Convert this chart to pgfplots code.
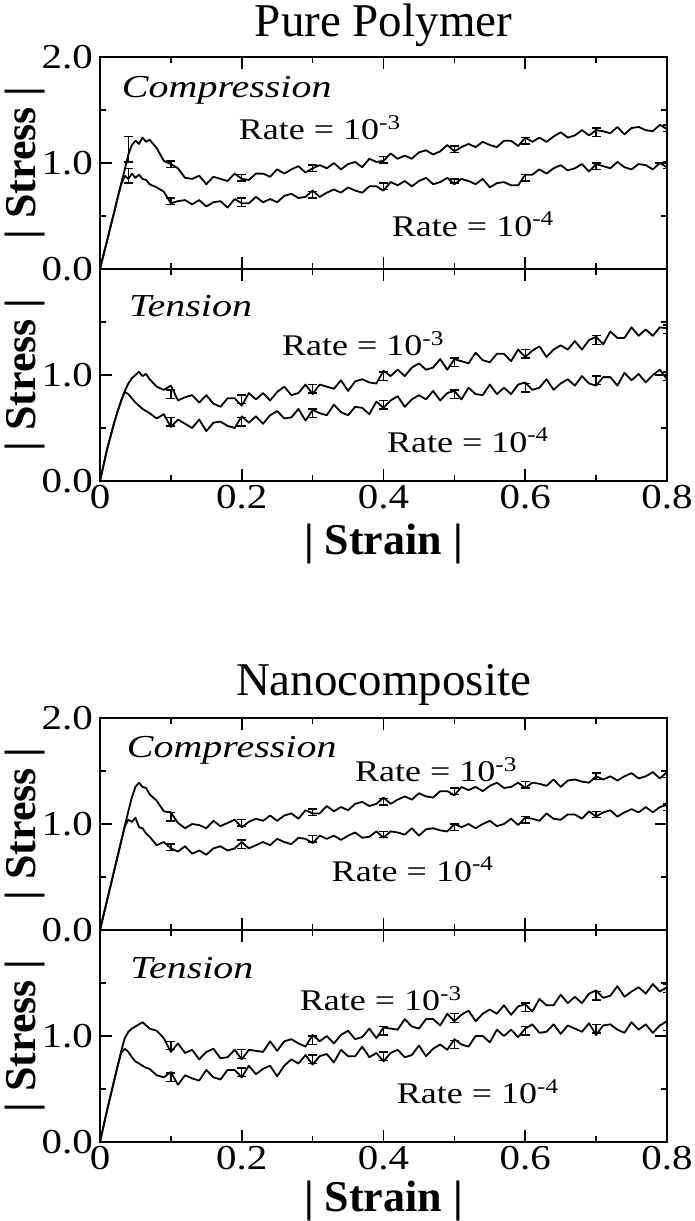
\documentclass[border=0pt]{standalone}
\usepackage{fontspec}
\setmainfont{Liberation Serif}
\newfontfamily\stretchA[FakeStretch=1.17]{Liberation Serif}
\newfontfamily\stretchB[FakeStretch=1.2]{Liberation Serif}
\newfontfamily\stretchC[FakeStretch=1.25]{Liberation Serif}
\usepackage{pgfplots}
\usepackage{pgfplotstable}
\pgfplotsset{compat=1.18}

\pgfplotstableread{
x a b
0 0 0
0.005 0.13 0.14
0.01 0.27 0.26
0.015 0.40 0.41
0.02 0.54 0.53
0.025 0.67 0.68
0.03 0.81 0.80
0.035 0.94 0.88
0.04 1.08 0.85
0.045 1.17 0.90
0.05 1.21 0.86
0.055 1.18 0.89
0.06 1.24 0.85
0.065 1.20 0.84
0.07 1.22 0.80
0.08 1.14 0.77
0.09 1.02 0.73
0.10 0.99 0.62
0.11 0.95 0.64
0.12 0.86 0.65
0.13 0.85 0.61
0.14 0.88 0.65
0.15 0.80 0.59
0.16 0.87 0.63
0.17 0.85 0.64
0.18 0.83 0.58
0.19 0.90 0.66
0.20 0.85 0.62
0.21 0.84 0.62
0.22 0.90 0.68
0.23 0.90 0.63
0.24 0.87 0.66
0.25 0.94 0.63
0.26 0.90 0.69
0.27 0.94 0.71
0.28 0.97 0.67
0.29 0.91 0.68
0.30 0.95 0.74
0.31 0.98 0.68
0.32 0.95 0.72
0.33 1.00 0.75
0.34 0.94 0.72
0.35 0.99 0.77
0.36 1.01 0.74
0.37 0.96 0.72
0.38 1.04 0.78
0.39 1.01 0.78
0.40 1.02 0.74
0.41 1.09 0.82
0.42 1.04 0.79
0.43 1.07 0.83
0.44 1.04 0.78
0.45 1.10 0.83
0.46 1.12 0.86
0.47 1.08 0.80
0.48 1.11 0.82
0.49 1.17 0.86
0.50 1.11 0.80
0.51 1.15 0.85
0.52 1.18 0.83
0.53 1.15 0.80
0.54 1.20 0.85
0.55 1.17 0.77
0.56 1.15 0.81
0.57 1.21 0.82
0.58 1.21 0.79
0.59 1.16 0.79
0.60 1.24 0.89
0.61 1.20 0.89
0.62 1.24 0.94
0.63 1.20 0.90
0.64 1.25 0.95
0.65 1.29 0.98
0.66 1.24 0.93
0.67 1.26 0.95
0.68 1.31 0.99
0.69 1.26 0.92
0.70 1.31 0.99
0.71 1.30 0.97
0.72 1.28 0.95
0.73 1.34 1.01
0.74 1.27 0.96
0.75 1.33 0.94
0.76 1.34 0.99
0.77 1.31 0.98
0.78 1.30 0.94
0.79 1.36 1.00
0.80 1.32 0.96
}\pureComp

\pgfplotstableread{
x a b
0 0 0
0.005 0.15 0.15
0.01 0.30 0.30
0.015 0.42 0.43
0.02 0.55 0.55
0.025 0.66 0.66
0.03 0.76 0.76
0.035 0.85 0.84
0.04 0.92 0.82
0.045 0.97 0.78
0.05 1.00 0.74
0.055 1.03 0.71
0.06 0.99 0.68
0.065 1.01 0.66
0.07 0.96 0.64
0.08 0.89 0.59
0.09 0.86 0.63
0.10 0.90 0.51
0.11 0.76 0.58
0.12 0.79 0.54
0.13 0.81 0.50
0.14 0.74 0.58
0.15 0.81 0.47
0.16 0.73 0.55
0.17 0.70 0.56
0.18 0.78 0.52
0.19 0.78 0.50
0.20 0.71 0.61
0.21 0.83 0.55
0.22 0.77 0.61
0.23 0.83 0.54
0.24 0.76 0.62
0.25 0.84 0.66
0.26 0.89 0.59
0.27 0.81 0.60
0.28 0.83 0.68
0.29 0.91 0.57
0.30 0.82 0.67
0.31 0.91 0.64
0.32 0.89 0.62
0.33 0.87 0.72
0.34 0.95 0.65
0.35 0.85 0.62
0.36 0.94 0.70
0.37 0.96 0.69
0.38 0.93 0.63
0.39 0.92 0.75
0.40 1.04 0.69
0.41 0.99 0.76
0.42 1.05 0.80
0.43 0.99 0.70
0.44 1.07 0.77
0.45 1.11 0.81
0.46 1.05 0.77
0.47 1.07 0.85
0.48 1.15 0.76
0.49 1.05 0.83
0.50 1.15 0.85
0.51 1.13 0.77
0.52 1.11 0.88
0.53 1.21 0.82
0.54 1.14 0.81
0.55 1.12 0.91
0.56 1.20 0.82
0.57 1.20 0.88
0.58 1.13 0.82
0.59 1.24 0.91
0.60 1.17 0.93
0.61 1.23 0.86
0.62 1.27 0.88
0.63 1.17 0.96
0.64 1.24 0.86
0.65 1.28 0.92
0.66 1.24 0.96
0.67 1.32 0.90
0.68 1.24 0.99
0.69 1.33 0.92
0.70 1.36 0.90
0.71 1.29 0.98
0.72 1.41 0.98
0.73 1.35 0.90
0.74 1.35 1.02
0.75 1.45 0.95
0.76 1.37 1.01
0.77 1.43 0.93
0.78 1.37 1.00
0.79 1.45 1.05
0.80 1.44 0.96
}\pureTens

\pgfplotstableread{
x a b
0 0 0
0.005 0.14 0.14
0.01 0.28 0.28
0.015 0.42 0.42
0.02 0.56 0.56
0.025 0.70 0.70
0.03 0.84 0.84
0.035 0.98 0.98
0.04 1.12 1.04
0.045 1.25 1.02
0.05 1.35 1.06
0.055 1.39 0.97
0.06 1.35 0.96
0.065 1.34 0.91
0.07 1.28 0.88
0.08 1.22 0.80
0.09 1.12 0.83
0.10 1.11 0.77
0.11 1.01 0.74
0.12 0.96 0.79
0.13 1.00 0.72
0.14 0.99 0.75
0.15 0.96 0.71
0.16 1.03 0.77
0.17 0.98 0.79
0.18 1.01 0.75
0.19 1.04 0.77
0.20 0.97 0.83
0.21 1.02 0.77
0.22 1.05 0.80
0.23 1.03 0.83
0.24 1.08 0.80
0.25 1.03 0.86
0.26 1.08 0.83
0.27 1.10 0.81
0.28 1.05 0.87
0.29 1.13 0.86
0.30 1.10 0.82
0.31 1.10 0.89
0.32 1.17 0.86
0.33 1.12 0.89
0.34 1.16 0.85
0.35 1.13 0.89
0.36 1.19 0.92
0.37 1.21 0.87
0.38 1.17 0.88
0.39 1.19 0.93
0.40 1.25 0.87
0.41 1.19 0.93
0.42 1.23 0.92
0.43 1.26 0.90
0.44 1.23 0.96
0.45 1.29 0.89
0.46 1.26 0.95
0.47 1.25 0.96
0.48 1.31 0.94
0.49 1.31 0.93
0.50 1.27 1.00
0.51 1.35 0.97
0.52 1.32 1.00
0.53 1.35 0.96
0.54 1.31 1.00
0.55 1.36 1.03
0.56 1.39 0.98
0.57 1.34 1.00
0.58 1.35 1.05
0.59 1.39 0.99
0.60 1.34 1.06
0.61 1.39 1.05
0.62 1.38 1.03
0.63 1.36 1.10
0.64 1.42 1.05
0.65 1.35 1.04
0.66 1.41 1.09
0.67 1.42 1.09
0.68 1.40 1.05
0.69 1.39 1.12
0.70 1.45 1.07
0.71 1.42 1.11
0.72 1.45 1.13
0.73 1.41 1.07
0.74 1.45 1.11
0.75 1.48 1.14
0.76 1.43 1.11
0.77 1.45 1.16
0.78 1.49 1.11
0.79 1.43 1.16
0.80 1.49 1.18
}\nanoComp

\pgfplotstableread{
x a b
0 0 0
0.005 0.15 0.15
0.01 0.30 0.30
0.015 0.44 0.44
0.02 0.58 0.58
0.025 0.72 0.72
0.03 0.86 0.84
0.035 0.98 0.88
0.04 1.04 0.85
0.045 1.07 0.80
0.05 1.09 0.76
0.055 1.11 0.74
0.06 1.13 0.72
0.065 1.10 0.70
0.07 1.07 0.69
0.08 1.05 0.63
0.09 0.98 0.61
0.10 0.85 0.66
0.11 0.93 0.54
0.12 0.84 0.63
0.13 0.87 0.60
0.14 0.78 0.58
0.15 0.85 0.68
0.16 0.88 0.61
0.17 0.79 0.59
0.18 0.80 0.68
0.19 0.87 0.68
0.20 0.78 0.61
0.21 0.87 0.72
0.22 0.86 0.64
0.23 0.85 0.69
0.24 0.95 0.72
0.25 0.86 0.62
0.26 0.95 0.72
0.27 0.97 0.78
0.28 0.93 0.74
0.29 0.90 0.82
0.30 1.01 0.73
0.31 0.95 0.81
0.32 1.00 0.83
0.33 0.93 0.75
0.34 1.01 0.87
0.35 1.05 0.81
0.36 0.97 0.81
0.37 0.99 0.90
0.38 1.07 0.80
0.39 0.98 0.84
0.40 1.08 0.76
0.41 1.07 0.84
0.42 1.06 0.87
0.43 1.16 0.80
0.44 1.09 0.82
0.45 1.07 0.91
0.46 1.16 0.81
0.47 1.16 0.88
0.48 1.10 0.92
0.49 1.21 0.87
0.50 1.14 0.97
0.51 1.20 0.92
0.52 1.24 0.90
0.53 1.14 1.00
0.54 1.21 1.00
0.55 1.25 0.94
0.56 1.21 1.06
0.57 1.29 1.00
0.58 1.20 1.06
0.59 1.28 0.99
0.60 1.30 1.07
0.61 1.23 1.11
0.62 1.35 1.03
0.63 1.29 1.04
0.64 1.29 1.11
0.65 1.39 1.02
0.66 1.31 1.10
0.67 1.37 1.07
0.68 1.31 1.04
0.69 1.40 1.12
0.70 1.43 1.01
0.71 1.36 1.10
0.72 1.38 1.11
0.73 1.47 1.06
0.74 1.37 1.03
0.75 1.42 1.13
0.76 1.46 1.06
0.77 1.40 1.11
0.78 1.49 1.03
0.79 1.42 1.10
0.80 1.46 1.14
}\nanoTens

\newcommand{\tickfont}{\stretchA\fontsize{17.5}{18}\selectfont}
\newcommand{\ratefont}{\stretchB\fontsize{15}{16}\selectfont}
\newcommand{\modefont}{\stretchC\itshape\fontsize{16}{17}\selectfont}
\newcommand{\labfont}{\bfseries\fontsize{22}{23}\selectfont}

\pgfplotsset{
  panel/.style={
    scale only axis, width=283.5pt, height=106pt,
    anchor=north west,
    xmin=0, xmax=0.8, ymin=0, ymax=2,
    xtick={0,0.2,0.4,0.6,0.8}, minor xtick={0.1,0.3,0.5,0.7},
    ytick={0,1,2}, minor ytick={0.5,1.5},
    tick align=inside, major tick length=6pt, minor tick length=3pt,
    axis line style={line width=0.8pt},
    every tick/.style={black, line width=0.8pt},
    tick label style={font=\tickfont},
    xticklabel style={yshift=1.5pt},
  },
  curve/.style={black, no marks, line width=0.9pt, line join=round},
  ebars/.style={black, only marks, mark=-, mark size=0pt,
    error bars/.cd, y dir=both, y explicit, error mark=|,
    error bar style={black, line width=0.7pt},
    error mark options={black, line width=0.7pt, mark size=2.2pt}},
}

\begin{document}
\begin{tikzpicture}
\useasboundingbox (0,0) rectangle (347.5pt,-610.5pt);

% ---------- Pure Polymer ----------
\node[anchor=base, font=\fontsize{23.5}{24}\selectfont] at (191.75pt,-18pt) {Pure Polymer};

\begin{axis}[panel, at={(50pt,-28.5pt)},
  xticklabels={,,,,}, yticklabels={0.0,1.0,2.0}]
\addplot[curve] table[x=x,y=a]{\pureComp};
\addplot[curve] table[x=x,y=b]{\pureComp};
\addplot[ebars] coordinates {
(0.04,1.13) +- (0,0.12) (0.1,0.99) +- (0,0.03) (0.2,0.86) +- (0,0.03)
(0.3,0.95) +- (0,0.03) (0.4,1.03) +- (0,0.03) (0.5,1.13) +- (0,0.03)
(0.6,1.21) +- (0,0.03) (0.7,1.29) +- (0,0.04) (0.8,1.33) +- (0,0.03)
(0.04,0.88) +- (0,0.07) (0.1,0.64) +- (0,0.03) (0.2,0.63) +- (0,0.04)
(0.3,0.70) +- (0,0.03) (0.4,0.78) +- (0,0.03) (0.5,0.83) +- (0,0.02)
(0.6,0.86) +- (0,0.03) (0.7,0.97) +- (0,0.03) (0.8,0.98) +- (0,0.03)};
\node[anchor=base west, font=\modefont] at (axis cs:0.021,1.62) {Compression};
\node[anchor=base west, font=\ratefont] at (axis cs:0.186,1.22) {Rate = 10\textsuperscript{-3}};
\node[anchor=base west, font=\ratefont] at (axis cs:0.402,0.31) {Rate = 10\textsuperscript{-4}};
\end{axis}

\begin{axis}[panel, at={(50pt,-134.5pt)},
  xticklabels={0,0.2,0.4,0.6,0.8}, yticklabels={0.0,1.0,}]
\addplot[curve] table[x=x,y=a]{\pureTens};
\addplot[curve] table[x=x,y=b]{\pureTens};
\addplot[ebars] coordinates {
(0.1,0.82) +- (0,0.04) (0.2,0.77) +- (0,0.04) (0.3,0.87) +- (0,0.04)
(0.4,0.99) +- (0,0.04) (0.5,1.12) +- (0,0.04) (0.6,1.20) +- (0,0.04)
(0.7,1.33) +- (0,0.04) (0.8,1.43) +- (0,0.04)
(0.1,0.56) +- (0,0.04) (0.2,0.56) +- (0,0.04) (0.3,0.64) +- (0,0.04)
(0.4,0.72) +- (0,0.04) (0.5,0.82) +- (0,0.04) (0.6,0.88) +- (0,0.04)
(0.7,0.95) +- (0,0.04) (0.8,0.99) +- (0,0.04)};
\node[anchor=base west, font=\modefont] at (axis cs:0.031,1.55) {Tension};
\node[anchor=base west, font=\ratefont] at (axis cs:0.247,1.18) {Rate = 10\textsuperscript{-3}};
\node[anchor=base west, font=\ratefont] at (axis cs:0.395,0.27) {Rate = 10\textsuperscript{-4}};
\end{axis}

\node[rotate=90, anchor=base, font=\labfont] at (17.5pt,-81.5pt) {| Stress |};
\node[rotate=90, anchor=base, font=\labfont] at (17.5pt,-187.5pt) {| Stress |};
\node[anchor=base, font=\labfont] at (191.75pt,-277pt) {| Strain |};

% ---------- Nanocomposite ----------
\node[anchor=base, font=\fontsize{23.5}{24}\selectfont] at (191.75pt,-347.5pt) {Nanocomposite};

\begin{axis}[panel, at={(50pt,-359pt)},
  xticklabels={,,,,}, yticklabels={0.0,1.0,2.0}]
\addplot[curve] table[x=x,y=a]{\nanoComp};
\addplot[curve] table[x=x,y=b]{\nanoComp};
\addplot[ebars] coordinates {
(0.1,1.07) +- (0,0.04) (0.2,1.01) +- (0,0.03) (0.3,1.11) +- (0,0.03)
(0.4,1.21) +- (0,0.03) (0.5,1.31) +- (0,0.03) (0.6,1.37) +- (0,0.03)
(0.7,1.45) +- (0,0.03) (0.8,1.47) +- (0,0.03)
(0.1,0.78) +- (0,0.03) (0.2,0.81) +- (0,0.04) (0.3,0.86) +- (0,0.03)
(0.4,0.90) +- (0,0.03) (0.5,0.97) +- (0,0.03) (0.6,1.04) +- (0,0.03)
(0.7,1.09) +- (0,0.03) (0.8,1.16) +- (0,0.03)};
\node[anchor=base west, font=\modefont] at (axis cs:0.028,1.63) {Compression};
\node[anchor=base west, font=\ratefont] at (axis cs:0.35,1.40) {Rate = 10\textsuperscript{-3}};
\node[anchor=base west, font=\ratefont] at (axis cs:0.317,0.46) {Rate = 10\textsuperscript{-4}};
\end{axis}

\begin{axis}[panel, at={(50pt,-465pt)},
  xticklabels={0,0.2,0.4,0.6,0.8}, yticklabels={0.0,1.0,}]
\addplot[curve] table[x=x,y=a]{\nanoTens};
\addplot[curve] table[x=x,y=b]{\nanoTens};
\addplot[ebars] coordinates {
(0.1,0.91) +- (0,0.04) (0.2,0.83) +- (0,0.04) (0.3,0.96) +- (0,0.04)
(0.4,1.05) +- (0,0.04) (0.5,1.17) +- (0,0.04) (0.6,1.27) +- (0,0.04)
(0.7,1.38) +- (0,0.04) (0.8,1.45) +- (0,0.04)
(0.1,0.61) +- (0,0.04) (0.2,0.66) +- (0,0.04) (0.3,0.78) +- (0,0.04)
(0.4,0.81) +- (0,0.04) (0.5,0.92) +- (0,0.04) (0.6,1.05) +- (0,0.04)
(0.7,1.07) +- (0,0.04) (0.8,1.09) +- (0,0.04)};
\node[anchor=base west, font=\modefont] at (axis cs:0.033,1.54) {Tension};
\node[anchor=base west, font=\ratefont] at (axis cs:0.272,1.24) {Rate = 10\textsuperscript{-3}};
\node[anchor=base west, font=\ratefont] at (axis cs:0.409,0.36) {Rate = 10\textsuperscript{-4}};
\end{axis}

\node[rotate=90, anchor=base, font=\labfont] at (17.5pt,-412pt) {| Stress |};
\node[rotate=90, anchor=base, font=\labfont] at (17.5pt,-518pt) {| Stress |};
\node[anchor=base, font=\labfont] at (191.75pt,-605.5pt) {| Strain |};

\end{tikzpicture}
\end{document}
